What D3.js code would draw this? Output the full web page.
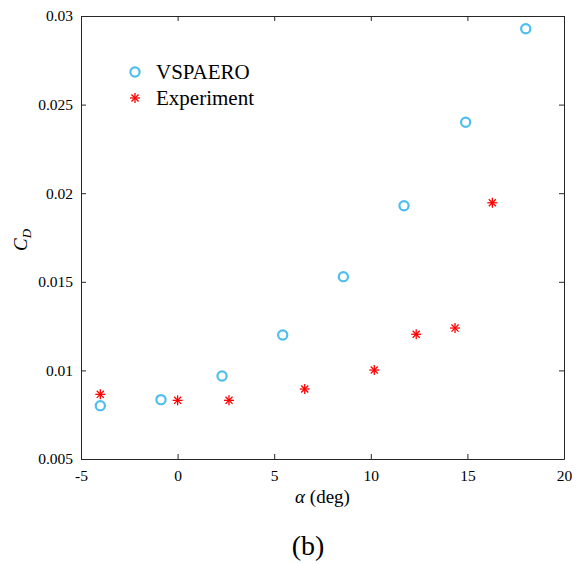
<!DOCTYPE html>
<html>
<head>
<meta charset="utf-8">
<script src="https://cdn.jsdelivr.net/npm/d3@7"></script>
<style>
  body { margin: 0; background: #fff; }
  text { font-family: 'Liberation Serif', 'DejaVu Serif', serif; fill: #000; }
</style>
</head>
<body>
<svg id="chart"></svg>
<script>
const vspAlpha = [-4.0, -0.86, 2.30, 5.44, 8.58, 11.72, 14.91, 18.02];
const vspCD = [0.00801, 0.00835, 0.00968, 0.0120, 0.01529, 0.01929, 0.0240, 0.02928];
const expAlpha = [-4.0, 0.0, 2.66, 6.58, 10.18, 12.35, 14.36, 16.29];
const expCD = [0.00865, 0.00831, 0.00831, 0.00895, 0.01002, 0.01204, 0.01239, 0.01946];
const xTicks = [-5, 0, 5, 10, 15, 20];
const yTicks = [0.005, 0.01, 0.015, 0.02, 0.025, 0.03];
const seriesNames = ['VSPAERO', 'Experiment'];

const width = 579, height = 564;
const margin = { left: 81, right: 15, top: 16, bottom: 105 };
const blue = '#4DBEEE', red = '#FF0000', axisColor = '#262626';

const svg = d3.select('#chart').attr('width', width).attr('height', height);

const x = d3.scaleLinear().domain([-5, 20]).range([margin.left, width - margin.right]);
const y = d3.scaleLinear().domain([0.005, 0.03]).range([height - margin.bottom, margin.top]);

const fmtY = d => '' + (+d.toFixed(3));
const fmtX = d => (d < 0 ? '-' + Math.abs(d) : '' + d);

// axes with inward ticks, box on
const axBottom = svg.append('g')
  .attr('transform', 'translate(0,' + y.range()[0] + ')')
  .call(d3.axisBottom(x).tickValues(xTicks).tickSizeInner(-5).tickSizeOuter(0).tickPadding(10).tickFormat(fmtX));
const axTop = svg.append('g')
  .attr('transform', 'translate(0,' + y.range()[1] + ')')
  .call(d3.axisTop(x).tickValues(xTicks).tickSizeInner(-5).tickSizeOuter(0).tickFormat(''));
const axLeft = svg.append('g')
  .attr('transform', 'translate(' + x.range()[0] + ',0)')
  .call(d3.axisLeft(y).tickValues(yTicks).tickSizeInner(-5).tickSizeOuter(0).tickPadding(8).tickFormat(fmtY));
const axRight = svg.append('g')
  .attr('transform', 'translate(' + x.range()[1] + ',0)')
  .call(d3.axisRight(y).tickValues(yTicks).tickSizeInner(-5).tickSizeOuter(0).tickFormat(''));

[axBottom, axTop, axLeft, axRight].forEach(g => {
  g.selectAll('path, line').attr('stroke', axisColor).attr('stroke-width', 1);
  g.selectAll('text').attr('font-size', 15.5).attr('fill', '#000')
    .style('font-family', "'Liberation Serif', serif");
});
axBottom.selectAll('text').attr('dy', '0.75em');

// markers
const plot = svg.append('g');

const drawStar = (g, cx, cy, r) => {
  for (let k = 0; k < 4; k++) {
    const a = k * Math.PI / 4;
    g.append('line')
      .attr('x1', cx - r * Math.cos(a)).attr('y1', cy - r * Math.sin(a))
      .attr('x2', cx + r * Math.cos(a)).attr('y2', cy + r * Math.sin(a))
      .attr('stroke', red).attr('stroke-width', 1.3);
  }
};

plot.selectAll('.vsp')
  .data(vspAlpha.map((a, i) => ({ a, c: vspCD[i] })))
  .enter()
  .append('circle')
  .classed('vsp', true)
  .attr('cx', d => x(d.a))
  .attr('cy', d => y(d.c))
  .attr('r', 4.6)
  .attr('fill', 'none')
  .attr('stroke', blue)
  .attr('stroke-width', 2.2);

expAlpha.forEach((a, i) => drawStar(plot, x(a), y(expCD[i]), 5));

// legend
const legend = svg.append('g');
legend.append('circle')
  .attr('cx', 135).attr('cy', 72).attr('r', 4.6)
  .attr('fill', 'none').attr('stroke', blue).attr('stroke-width', 2.2);
drawStar(legend, 135, 98, 5);
legend.selectAll('.lab')
  .data(seriesNames)
  .enter()
  .append('text')
  .attr('x', 156)
  .attr('y', (d, i) => 79 + i * 26)
  .attr('font-size', 21)
  .text(d => d);

// axis labels
svg.append('text')
  .attr('x', x(7.5)).attr('y', 503)
  .attr('text-anchor', 'middle')
  .attr('font-size', 19)
  .html('<tspan font-style="italic">α</tspan> (deg)');

svg.append('text')
  .attr('transform', 'translate(27,240) rotate(-90)')
  .attr('text-anchor', 'middle')
  .attr('font-size', 19)
  .html('<tspan font-style="italic">C</tspan><tspan font-style="italic" font-size="13" dy="4">D</tspan>');

svg.append('text')
  .attr('x', 308).attr('y', 555)
  .attr('text-anchor', 'middle')
  .attr('font-size', 28)
  .text('(b)');
</script>
</body>
</html>
